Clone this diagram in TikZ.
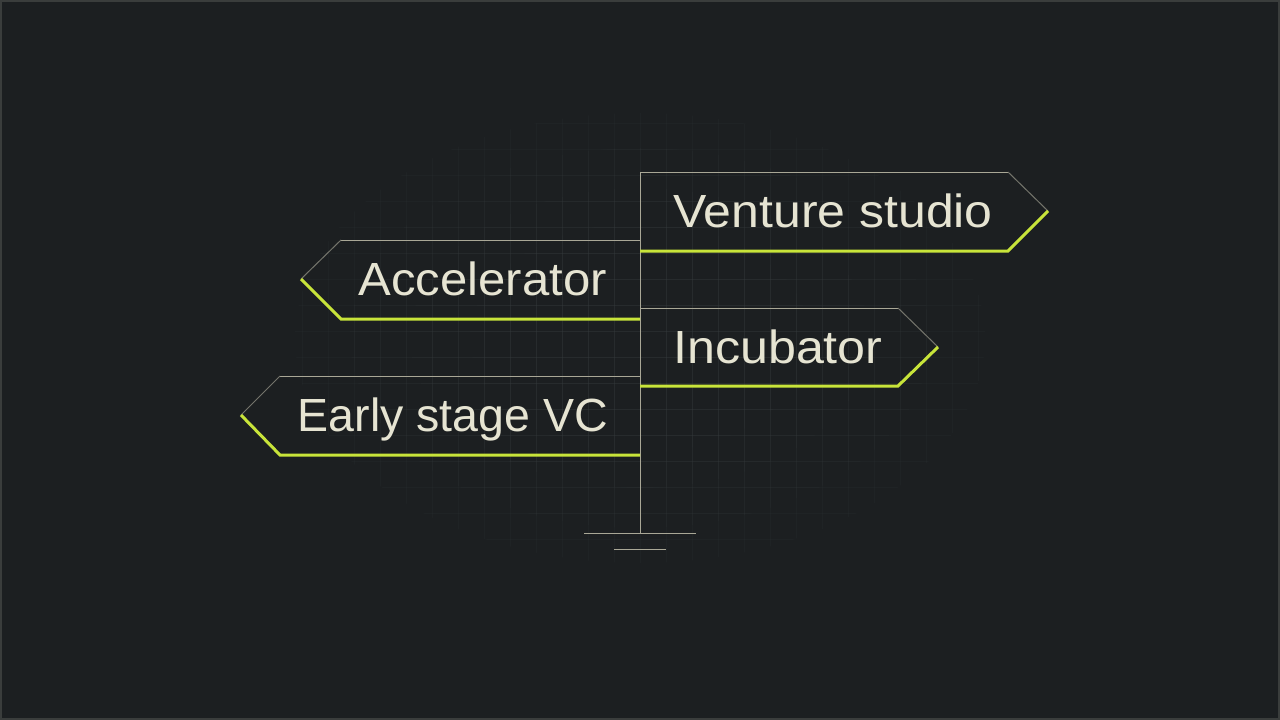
\documentclass[tikz,border=0pt]{standalone}
\usepackage{fontspec}
\setmainfont{Liberation Sans}
\definecolor{bg}{HTML}{1C1F21}
\definecolor{frame}{HTML}{3A3D3C}
\definecolor{gridc}{HTML}{3A3F41}
\definecolor{lime}{HTML}{C8E43A}
\definecolor{edge}{HTML}{A9A796}
\definecolor{diag}{HTML}{74746B}
\definecolor{txt}{HTML}{E6E4D2}
\tikzset{
  signtext/.style={text=txt, font=\fontsize{46.5}{50}\selectfont, inner sep=0pt},
  thinedge/.style={draw=edge, line width=1pt},
  diagedge/.style={draw=diag, line width=1pt},
  limeedge/.style={draw=lime, line width=3pt, line join=miter},
  gridline/.style={draw=gridc, line width=0.8pt},
}
\begin{document}
\begin{tikzpicture}[x=1pt,y=-1pt]
\useasboundingbox (0,0) rectangle (1280,720);
\fill[bg] (0,0) rectangle (1280,720);
\draw[frame, line width=2pt] (1,1) rectangle (1279,719);
% faded grid
\foreach \rx/\ry/\op in {345/225/0.13, 290/190/0.13, 230/150/0.13, 170/115/0.13}{
  \begin{scope}[opacity=\op]
    \clip (640,338) ellipse [x radius=\rx, y radius=\ry];
    \foreach \k in {-14,...,14} { \draw[gridline] (640+26*\k,100) -- (640+26*\k,580); }
    \foreach \k in {-14,...,5} { \draw[gridline] (280,461+26*\k) -- (1000,461+26*\k); }
  \end{scope}
}
% post and base
\coordinate (posttop) at (640,172);
\coordinate (postbot) at (640,533);
\coordinate (baseL) at (584,533);
\coordinate (baseR) at (696,533);
\coordinate (footL) at (614,549);
\coordinate (footR) at (666,549);
\draw[thinedge] (posttop) -- (postbot);
\draw[thinedge] (baseL) -- (baseR);
\draw[thinedge] (footL) -- (footR);
% Venture studio (right)
\draw[thinedge] (640,172) -- (1008,172);
\draw[diagedge] (1008,172) -- (1048,211);
\draw[limeedge] (640,251) -- (1008,251) -- (1048,211);
\node[signtext, anchor=base west] (vs) at (673,227) {\scalebox{1.075}[1]{Venture studio}};
% Accelerator (left)
\draw[thinedge] (640,240) -- (341,240);
\draw[diagedge] (341,240) -- (301,279);
\draw[limeedge] (640,319) -- (341,319) -- (301,279);
\node[signtext, anchor=base east] (acc) at (607,295) {\scalebox{1.055}[1]{Accelerator}};
% Incubator (right)
\draw[thinedge] (640,308) -- (898,308);
\draw[diagedge] (898,308) -- (938,347);
\draw[limeedge] (640,386) -- (898,386) -- (938,347);
\node[signtext, anchor=base west] (inc) at (673,363) {\scalebox{1.08}[1]{Incubator}};
% Early stage VC (left)
\draw[thinedge] (640,376) -- (280,376);
\draw[diagedge] (280,376) -- (241,415);
\draw[limeedge] (640,455) -- (280,455) -- (241,415);
\node[signtext, anchor=base east] (esv) at (608,431) {Early stage VC};
\end{tikzpicture}
\end{document}
